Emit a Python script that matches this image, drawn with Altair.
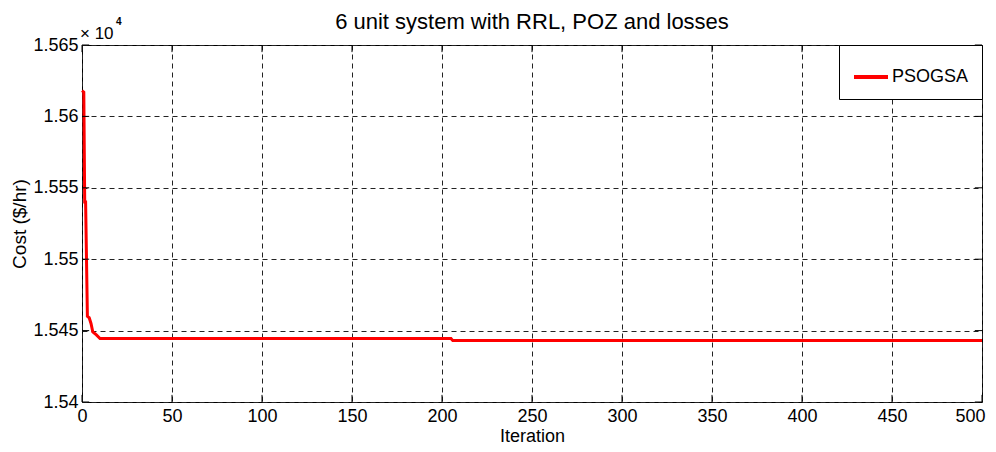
import altair as alt
import pandas as pd

# Convergence curve (iteration, cost)
iterations = [0, 1, 1.5, 2, 3, 4, 5, 6, 8, 10, 205, 206, 500]
costs = [15618, 15617, 15540, 15540, 15460, 15459, 15455, 15449, 15447, 15444.5, 15444.5, 15443, 15443]
series_name = "PSOGSA"

x_ticks = [0, 50, 100, 150, 200, 250, 300, 350, 400, 450, 500]
y_ticks = [15400, 15450, 15500, 15550, 15600, 15650]

df = pd.DataFrame({"iter": iterations, "cost": costs, "series": series_name})

FONT = "Liberation Sans"

xs = alt.Scale(domain=[0, 500], nice=False, zero=False)
ys = alt.Scale(domain=[15400, 15650], nice=False, zero=False)

line = alt.Chart(df).mark_line(strokeWidth=3, interpolate="linear").encode(
    x=alt.X("iter:Q", scale=xs,
            axis=alt.Axis(values=x_ticks, title="Iteration", grid=True,
                          gridDash=[5, 4], gridColor="#222", gridOpacity=1,
                          tickSize=0, labelPadding=5, titlePadding=2,
                          labelFontSize=18, titleFontSize=18,
                          domain=False, labelFlush=False,
                          labelOffset={"condition": {"test": "datum.value == 500", "value": -12},
                                       "value": 0})),
    y=alt.Y("cost:Q", scale=ys,
            axis=alt.Axis(values=y_ticks, title="Cost ($/hr)", grid=True,
                          gridDash=[5, 4], gridColor="#222", gridOpacity=1,
                          tickSize=0, labelPadding=4, titlePadding=3,
                          labelFontSize=18, titleFontSize=19,
                          domain=False, labelFlush=False,
                          labelExpr="format(datum.value/10000, '.4~g')")),
    color=alt.Color("series:N",
                    scale=alt.Scale(domain=[series_name], range=["#ff0000"]),
                    legend=alt.Legend(title=None, orient="top-right", offset=0,
                                      padding=13, strokeColor="black",
                                      fillColor="white", symbolType="stroke",
                                      symbolSize=1156, symbolStrokeWidth=4,
                                      labelOffset=2, labelFontSize=18,
                                      labelFont=FONT, labelColor="black")),
)

# inward tick marks (MATLAB style)
bt = pd.DataFrame({"x": x_ticks, "y": 15400, "y2": 15405})
tt = pd.DataFrame({"x": x_ticks, "y": 15650, "y2": 15645})
lt = pd.DataFrame({"y": y_ticks, "x": 0, "x2": 4})
rt = pd.DataFrame({"y": y_ticks, "x": 500, "x2": 496})

def vtick(d):
    return alt.Chart(d).mark_rule(color="black", strokeWidth=1).encode(
        x=alt.X("x:Q", scale=xs), y=alt.Y("y:Q", scale=ys), y2="y2:Q")

def htick(d):
    return alt.Chart(d).mark_rule(color="black", strokeWidth=1).encode(
        y=alt.Y("y:Q", scale=ys), x=alt.X("x:Q", scale=xs), x2="x2:Q")

exp_df = pd.DataFrame({"x": [0], "y": [15650]})
exp_text = alt.Chart(exp_df).mark_text(text="× 10", align="left", baseline="alphabetic",
                                       dx=-2, dy=-6, fontSize=17, font=FONT,
                                       color="black").encode(
    x=alt.X("x:Q", scale=xs), y=alt.Y("y:Q", scale=ys))
exp_sup = alt.Chart(exp_df).mark_text(text="4", align="left", baseline="alphabetic",
                                      dx=34, dy=-20, fontSize=10, font=FONT,
                                      fontWeight="bold", color="black").encode(
    x=alt.X("x:Q", scale=xs), y=alt.Y("y:Q", scale=ys))

chart = alt.layer(line, vtick(bt), vtick(tt), htick(lt), htick(rt), exp_text, exp_sup).properties(
    width=900, height=357,
    title=alt.Title("6 unit system with RRL, POZ and losses", fontSize=22,
                    fontWeight="normal", font=FONT, offset=0, dy=17, frame="group",
                    color="black"),
    autosize=alt.AutoSizeParams(type="none"),
    padding={"left": 74, "top": 37, "right": 6, "bottom": 42},
    background="white",
).configure_view(stroke="black", strokeWidth=1).configure_axis(
    labelFont=FONT, titleFont=FONT,
    labelColor="black", titleColor="black", titleFontWeight="normal"
)

chart.save("out.html", embed_options={"renderer": "svg", "actions": False})
